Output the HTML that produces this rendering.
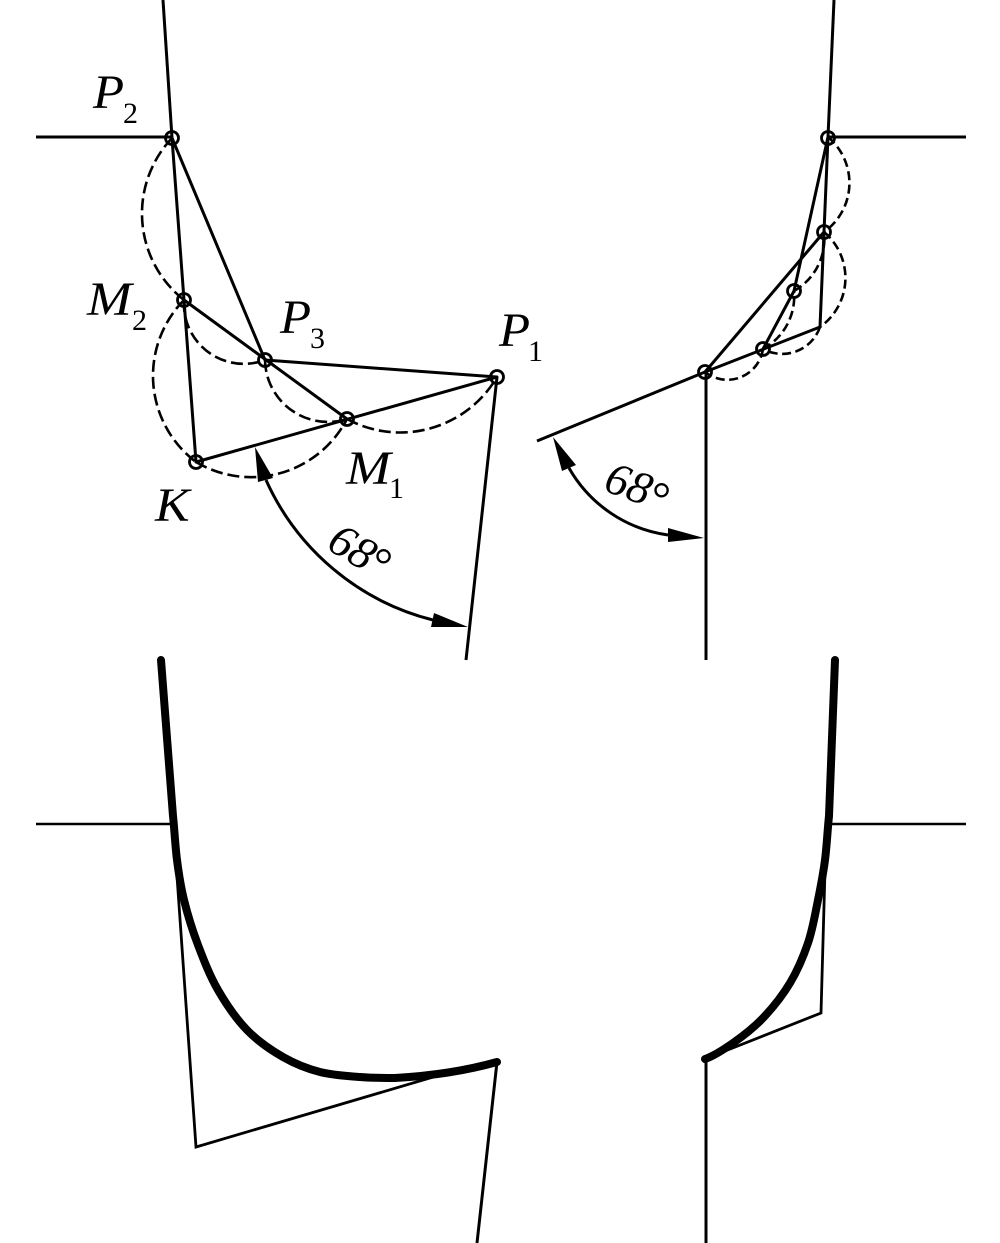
<!DOCTYPE html>
<html><head><meta charset="utf-8"><style>
html,body{margin:0;padding:0;background:#fff}
svg{display:block}
text{font-family:"Liberation Serif",serif;fill:#000}
.i{font-style:italic;font-size:48px}
.s{font-size:30px}
</style></head><body>
<svg width="1000" height="1243" viewBox="0 0 1000 1243" xmlns="http://www.w3.org/2000/svg">
<rect width="1000" height="1243" fill="#fff"/>
<!-- top left solid -->
<g fill="none" stroke="#000" stroke-width="3" stroke-linejoin="round">
<path d="M163,0L172,138"/>
<path d="M36,137H172"/>
<path d="M172,138L196,462L497,377L265,360L172,138"/>
<path d="M184,300L347,419"/>
<path d="M497,377L466,660"/>
<path d="M266,480A250,250 0 0 0 433,620"/>
<!-- top right solid -->
<path d="M834,0L828,137L820,327L705,372L537,441"/>
<path d="M828,137H966"/>
<path d="M828,137L794,291L763,349"/>
<path d="M824,232L705,372"/>
<path d="M706,372V660"/>
<path d="M569,468A135,135 0 0 0 668,535"/>
</g>
<!-- dashed -->
<g fill="none" stroke="#000" stroke-width="2.6" stroke-dasharray="12 5">
<path d="M172,138A110,110 0 0 0 184,300"/>
<path d="M184,300A108,108 0 0 0 196,462"/>
<path d="M196,462A108,108 0 0 0 347,419"/>
<path d="M184,300A60,60 0 0 0 265,360"/>
<path d="M265,360A63,63 0 0 0 347,419"/>
<path d="M347,419A112,112 0 0 0 497,377"/>
</g>
<g fill="none" stroke="#000" stroke-width="2.6" stroke-dasharray="9 4.5">
<path d="M828,137A60,60 0 0 1 824,232"/>
<path d="M824,232A60,60 0 0 1 820,327"/>
<path d="M820,327A40,40 0 0 1 763,349"/>
<path d="M763,349A36,36 0 0 1 705,372"/>
<path d="M763,349A60,60 0 0 0 794,291"/>
<path d="M794,291A60,60 0 0 0 824,232"/>
</g>
<!-- points -->
<g fill="none" stroke="#000" stroke-width="2.8">
<circle cx="172" cy="138" r="6.5"/><circle cx="184" cy="300" r="6.5"/><circle cx="265" cy="360" r="6.5"/>
<circle cx="497" cy="377" r="6.5"/><circle cx="347" cy="419" r="6.5"/><circle cx="196" cy="462" r="6.5"/>
<circle cx="828" cy="138" r="6.5"/><circle cx="824" cy="232" r="6.5"/><circle cx="794" cy="291" r="6.5"/>
<circle cx="763" cy="349" r="6.5"/><circle cx="705" cy="372" r="6.5"/>
</g>
<!-- arrowheads -->
<g fill="#000">
<polygon points="255,447 258,482 273,478"/>
<polygon points="468,627 434,613 431,627"/>
<polygon points="553,437 562,471 576,465"/>
<polygon points="704,538 668,528 668,542"/>
</g>
<!-- labels -->
<text class="i" transform="translate(93,108) scale(1.06,1)">P</text><text class="s" x="123" y="123">2</text>
<text class="i" transform="translate(87,315) scale(1.12,1)">M</text><text class="s" x="132" y="330">2</text>
<text class="i" transform="translate(280,333) scale(1.06,1)">P</text><text class="s" x="310" y="348">3</text>
<text class="i" transform="translate(499,346) scale(1.06,1)">P</text><text class="s" x="528" y="361">1</text>
<text class="i" transform="translate(346,484) scale(1.12,1)">M</text><text class="s" x="389" y="498">1</text>
<text class="i" transform="translate(155,521) scale(1.08,1)">K</text>
<text class="i" style="font-size:46px" transform="translate(325,548) rotate(31)">68</text>
<text style="font-size:48px" transform="translate(374,581)">°</text>
<text class="i" style="font-size:46px" transform="translate(602,490) rotate(20)">68</text>
<text style="font-size:48px" transform="translate(652,515)">°</text>
<!-- bottom left -->
<g fill="none" stroke="#000" stroke-linejoin="miter">
<path d="M36,824H173" stroke-width="2.6"/>
<path d="M176,862L196,1147L440,1075" stroke-width="2.8"/>
<path d="M497,1062L477,1243" stroke-width="3"/>
<path d="M161,660L173,816C174.5,830 175.2,846 177,860C178.8,874 180.5,885.8 184,900C187.5,914.2 192.3,930 198,945C203.7,960 209.8,975.8 218,990C226.2,1004.2 236.2,1018.8 247,1030C257.8,1041.2 270.8,1050 283,1057C295.2,1064 307.2,1068.7 320,1072C332.8,1075.3 347.5,1076 360,1077C372,1078 383,1078 395,1078C430,1076 465,1071 497,1062" stroke-width="8" stroke-linecap="round" stroke-linejoin="round"/>
<!-- bottom right -->
<path d="M832,824H966" stroke-width="2.6"/>
<path d="M825,870L821,1013L720,1053" stroke-width="2.8"/>
<path d="M706,1060V1243" stroke-width="3"/>
<path d="M835,660L829,816C827.5,830 826.8,846 825,860C823.2,874 820.8,886.2 818,900C815.2,913.8 812.7,929.2 808,943C803.3,956.8 797.5,970.5 790,983C782.5,995.5 772.5,1008 763,1018C753.5,1028 742.7,1036.2 733,1043C723.3,1049.8 714,1056 705,1059" stroke-width="8" stroke-linecap="round" stroke-linejoin="round"/>
</g>
</svg>
</body></html>
